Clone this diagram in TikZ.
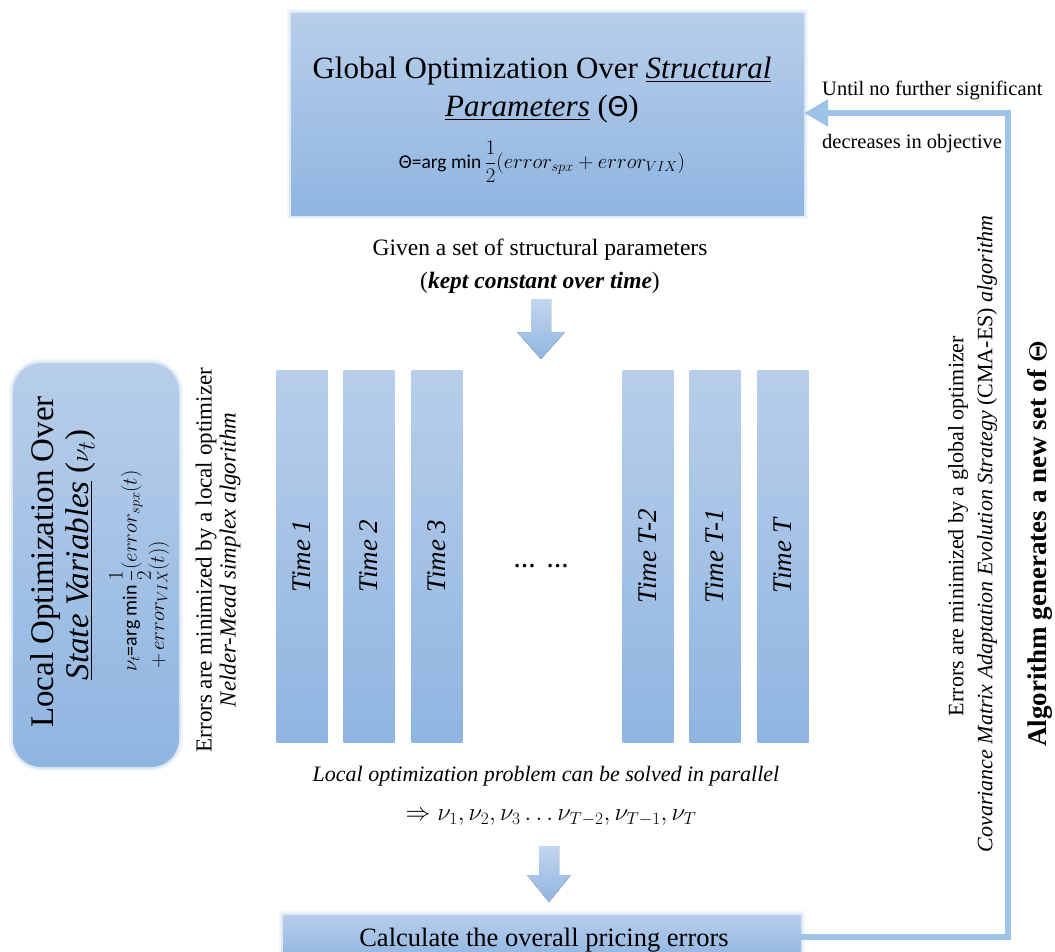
\documentclass[tikz,border=0pt]{standalone}
\usepackage{amsmath}
\usepackage{fontspec}
\setmainfont{Liberation Serif}
\setsansfont{Carlito}
\usetikzlibrary{arrows.meta,calc}
\definecolor{bTop}{RGB}{184,206,234}
\definecolor{bBot}{RGB}{143,181,225}
\definecolor{lineb}{RGB}{157,195,230}
\newcommand\fsz[2]{\fontsize{#1}{#2}\selectfont}
\tikzset{
  gbox/.style={top color=bTop, bottom color=bBot, draw=none, inner sep=0pt},
  glow/.style={preaction={draw=bBot, line width=8pt, draw opacity=0.12},
               preaction={draw=bBot, line width=4pt, draw opacity=0.2}},
  colbox/.style={gbox, minimum width=51pt, minimum height=372pt},
  collab/.style={rotate=90, font=\fsz{27}{30}\itshape},
  fb/.style={draw=lineb, line width=6pt},
  fat/.style={top color=bTop!85!white, bottom color=bBot},
  txt/.style={inner sep=0pt, align=center}
}
\begin{document}
\begin{tikzpicture}[x=1pt,y=-1pt]
\clip (0,0) rectangle (1055,951);
% top box
\node[gbox, glow, minimum width=513pt, minimum height=202pt] (top) at (547.5,114) {};
\node[txt, font=\fsz{31}{35}, anchor=base] (t1) at (542,78) {Global Optimization Over \underline{\textit{Structural}}};
\node[txt, font=\fsz{31}{35}, anchor=base] (t2) at (542,116) {\underline{\textit{Parameters}} (\textsf{Θ})};
\node[txt, font=\fsz{19.5}{22}] (t3) at (542,162) {\textsf{Θ=arg min}\,$\dfrac{1}{2}(error_{spx}+error_{VIX})$};
% given text
\node[txt, font=\fsz{23.5}{27}] (g1) at (540,250) {Given a set of structural parameters};
\node[txt, font=\fsz{23.5}{27}] (g2) at (540,283) {(\textbf{\textit{kept constant over time}})};
% fat arrow 1
\fill[fat] (531,299) -- (551,299) -- (551,332) -- (565,332) -- (541,359) -- (517,332) -- (531,332) -- cycle;
% columns
\node[colbox] (c1) at (302,556) {};
\node[colbox] (c2) at (369,556) {};
\node[colbox] (c3) at (437,556) {};
\node[colbox] (c4) at (648,556) {};
\node[colbox] (c5) at (715,556) {};
\node[colbox] (c6) at (783,556) {};
\node[collab] (l1) at (c1) {Time 1};
\node[collab] (l2) at (c2) {Time 2};
\node[collab] (l3) at (c3) {Time 3};
\node[collab] (l4) at (c4) {Time \textit{T}-2};
\node[collab] (l5) at (c5) {Time \textit{T}-1};
\node[collab] (l6) at (c6) {Time \textit{T}};
\node[txt, font=\fsz{22}{26}\bfseries] (dots) at (541,566) {\ldots\ \ \ldots};
% left box
\node[gbox, glow, rounded corners=28pt, minimum width=166pt, minimum height=404pt] (lbox) at (96,565) {};
\node[txt, rotate=90, font=\fsz{33}{36}, anchor=base] (lb1) at (53,562) {Local Optimization Over};
\node[txt, rotate=90, font=\fsz{33}{36}, anchor=base] (lb2) at (88,555) {\underline{\textit{State Variables}} ($\nu_t$)};
\node[txt, rotate=90, font=\fsz{20}{23}, anchor=west] (lb3) at (130,672) {$\nu_t$\textsf{=arg min}\,$\dfrac{1}{2}(error_{spx}(t)$};
\node[txt, rotate=90, font=\fsz{20}{23}, anchor=west] (lb4) at (159,669) {$+\,error_{VIX}(t))$};
\node[txt, rotate=90, font=\fsz{23}{24}] (lerr) at (218,560) {Errors are minimized by a local optimizer\\ \textit{Nelder-Mead simplex algorithm}};
% below columns
\node[txt, font=\fsz{22}{26}\itshape] (par) at (546,776) {Local optimization problem can be solved in parallel};
\node[txt, font=\fsz{23}{26}] (nus) at (551,818) {$\Rightarrow \nu_1,\nu_2,\nu_3 \ldots \nu_{T-2},\nu_{T-1},\nu_T$};
% fat arrow 2
\fill[fat] (539,846) -- (559,846) -- (559,875) -- (571,875) -- (549,902) -- (527,875) -- (539,875) -- cycle;
% bottom box
\node[gbox, glow, minimum width=518pt, minimum height=44pt] (bot) at (542,937) {};
\node[txt, font=\fsz{26.5}{30}] (botl) at (544,940) {Calculate the overall pricing errors};
% feedback loop
\coordinate (rc) at (1008,113);
\draw[fb, -{Triangle[width=26pt,length=24pt]}] (bot.east) -| (rc) -- (top.east |- rc);
\node[txt, font=\fsz{20.5}{24}, anchor=base west] (u1) at (822,95) {Until no further significant};
\node[txt, font=\fsz{20.5}{24}, anchor=base west] (u2) at (822,148) {decreases in objective};
\node[txt, rotate=90, font=\fsz{22}{24}] (gerr1) at (958,526) {Errors are minimized by a global optimizer};
\node[txt, rotate=90, font=\fsz{22}{24}] (gerr2) at (987,534) {\textit{Covariance Matrix Adaptation Evolution Strategy} (CMA-ES) \textit{algorithm}};
\node[txt, rotate=90, font=\fsz{27}{29}\bfseries] (alg) at (1040,544) {Algorithm generates a new set of $\boldsymbol{\Theta}$};
\end{tikzpicture}
\end{document}
